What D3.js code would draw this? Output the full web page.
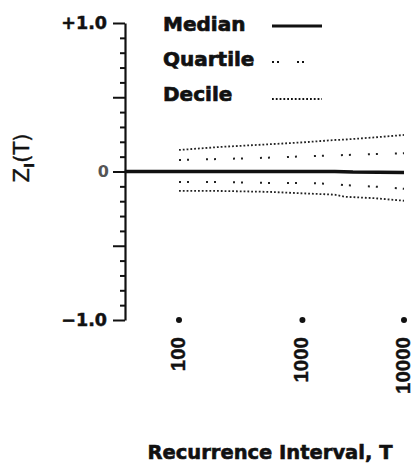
<!DOCTYPE html>
<html><head><meta charset="utf-8">
<script src="https://cdn.jsdelivr.net/npm/d3@7"></script>
<style>html,body{margin:0;padding:0;background:#fff;}svg{display:block;}</style>
</head><body>
<script>
// ---- data ----
const medianT = [43, 100, 1000, 2000, 3000, 10000];
const medianV = [0, 0, 0, 0, -0.004, -0.006];
const bandT = [100, 200, 500, 1000, 2000, 2500, 5000, 10000];
const upperDecile   = [0.145, 0.165, 0.183, 0.196, 0.212, 0.215, 0.230, 0.246];
const upperQuartile = [0.077, 0.084, 0.093, 0.102, 0.109, 0.111, 0.118, 0.123];
const lowerQuartile = [-0.071, -0.071, -0.077, -0.077, -0.084, -0.092, -0.102, -0.116];
const lowerDecile   = [-0.131, -0.131, -0.137, -0.147, -0.156, -0.170, -0.180, -0.197];
const xTickValues = [100, 1000, 10000];
const xTickLabels = ["100", "1000", "10000"];
const yTickValues = [1, 0, -1];
const yTickLabels = ["+1.0", "0", "\u22121.0"];
const legendLabels = ["Median", "Quartile", "Decile"];

// inverse normal CDF (Acklam)
function probit(p){
  const a=[-3.969683028665376e+01,2.209460984245205e+02,-2.759285104469687e+02,1.383577518672690e+02,-3.066479806614716e+01,2.506628277459239e+00];
  const b=[-5.447609879822406e+01,1.615858368580409e+02,-1.556989798598866e+02,6.680131188771972e+01,-1.328068155288572e+01];
  const c=[-7.784894002430293e-03,-3.223964580411365e-01,-2.400758277161838e+00,-2.549671010115819e+00,4.374664141464968e+00,2.938163982698783e+00];
  const d=[7.784695709041462e-03,3.224671290700398e-01,2.445134137142996e+00,3.754408661907416e+00];
  const pl=0.02425;
  let q,r;
  if(p<pl){q=Math.sqrt(-2*Math.log(p));return (((((c[0]*q+c[1])*q+c[2])*q+c[3])*q+c[4])*q+c[5])/((((d[0]*q+d[1])*q+d[2])*q+d[3])*q+1);}
  if(p<=1-pl){q=p-0.5;r=q*q;return (((((a[0]*r+a[1])*r+a[2])*r+a[3])*r+a[4])*r+a[5])*q/(((((b[0]*r+b[1])*r+b[2])*r+b[3])*r+b[4])*r+1);}
  q=Math.sqrt(-2*Math.log(1-p));return -(((((c[0]*q+c[1])*q+c[2])*q+c[3])*q+c[4])*q+c[5])/((((d[0]*q+d[1])*q+d[2])*q+d[3])*q+1);
}
const zOf = T => probit(1 - 1/T);

const W = 415, H = 464;
const svg = d3.select("body").append("svg").attr("width", W).attr("height", H);
const FONT = "'DejaVu Sans', sans-serif";

const xz = d3.scaleLinear().domain([zOf(100), zOf(10000)]).range([179, 404]);
const x = T => xz(zOf(T));
const y = d3.scaleLinear().domain([-1, 1]).range([320, 23]);
const axisX = 125;

// y axis: minor ticks
const minorTicks = d3.range(-10, 11).map(i => i / 10);
const yAxis = d3.axisLeft(y).tickValues(minorTicks).tickSize(5).tickSizeOuter(0).tickFormat("");
const gy = svg.append("g").attr("transform", `translate(${axisX},0)`).call(yAxis);
gy.select(".domain").attr("stroke", "#111").attr("stroke-width", 2.2);
gy.selectAll(".tick line").attr("stroke", "#111").attr("stroke-width", 2)
  .attr("x2", d => (Math.abs(d * 2 - Math.round(d * 2)) < 1e-6) ? -12 : -5);

// y tick labels
svg.append("g").selectAll("text").data(yTickValues).join("text")
  .attr("x", (d, i) => i === 1 ? 109 : 107)
  .attr("y", d => y(d))
  .attr("dy", "0.36em")
  .attr("text-anchor", "end")
  .attr("font-family", FONT).attr("font-weight", "bold")
  .attr("font-size", (d, i) => i === 1 ? 16 : 17.5)
  .attr("fill", (d, i) => i === 1 ? "#555" : "#111")
  .attr("stroke", (d, i) => i === 1 ? "none" : "#111").attr("stroke-width", 0.5)
  .text((d, i) => yTickLabels[i]);

// y title Z_I(T)
const yt = svg.append("text")
  .attr("transform", "translate(29,158) rotate(-90)")
  .attr("text-anchor", "middle")
  .attr("font-family", FONT).attr("font-size", 21).attr("fill", "#111")
  .attr("stroke", "#111").attr("stroke-width", 0.4);
yt.append("tspan").text("Z");
yt.append("tspan").attr("font-size", 14).attr("dy", 5).attr("font-weight", "bold").text("I");
yt.append("tspan").attr("dy", -5).text("(T)");

// x tick markers (dots) and labels
svg.append("g").selectAll("circle").data(xTickValues).join("circle")
  .attr("cx", d => x(d)).attr("cy", y(-1)).attr("r", 3).attr("fill", "#111");
svg.append("g").selectAll("text").data(xTickValues).join("text")
  .attr("transform", d => `translate(${x(d) + 6},337) rotate(-90)`)
  .attr("text-anchor", "end")
  .attr("font-family", "'Liberation Sans', Arial, sans-serif").attr("font-weight", "bold")
  .attr("font-size", 20.5).attr("fill", "#111")
  .attr("stroke", "#111").attr("stroke-width", 0.4)
  .text((d, i) => xTickLabels[i]);

// x title
svg.append("text").attr("x", 270).attr("y", 459).attr("text-anchor", "middle")
  .attr("font-family", FONT).attr("font-weight", "bold").attr("font-size", 19.5).attr("fill", "#111")
  .attr("stroke", "#111").attr("stroke-width", 0.6)
  .text("Recurrence Interval, T");

// lines
const line = d3.line().x(d => x(d[0])).y(d => y(d[1]));
const pairs = (ts, vs) => ts.map((t, i) => [t, vs[i]]);
const decileDash = "1.8,2.0";
const quartDash = "2,6,2,17";
svg.append("path").datum(pairs(medianT, medianV)).attr("d", line)
  .attr("fill", "none").attr("stroke", "#111").attr("stroke-width", 3.5);
[upperDecile, lowerDecile].forEach(v => svg.append("path").datum(pairs(bandT, v)).attr("d", line)
  .attr("fill", "none").attr("stroke", "#222").attr("stroke-width", 1.8).attr("stroke-dasharray", decileDash));
[upperQuartile, lowerQuartile].forEach(v => svg.append("path").datum(pairs(bandT, v)).attr("d", line)
  .attr("fill", "none").attr("stroke", "#222").attr("stroke-width", 2).attr("stroke-dasharray", quartDash));

// legend
const lg = svg.append("g");
const legY = [31, 66, 101];
const legLineY = [26, 62, 99];
lg.selectAll("text").data(legendLabels).join("text")
  .attr("x", 163).attr("y", (d, i) => legY[i])
  .attr("font-family", FONT).attr("font-weight", "bold").attr("font-size", 20).attr("fill", "#111")
  .attr("stroke", "#111").attr("stroke-width", 0.7)
  .text(d => d);
const legStyles = [
  {w: 3, dash: null},
  {w: 2, dash: "2,3,2,18"},
  {w: 1.8, dash: "1.8,2.0"}
];
lg.selectAll("line").data(legendLabels).join("line")
  .attr("x1", 272).attr("x2", (d, i) => i === 1 ? 304 : 322)
  .attr("y1", (d, i) => legLineY[i]).attr("y2", (d, i) => legLineY[i])
  .attr("stroke", "#111").attr("stroke-width", (d, i) => legStyles[i].w)
  .attr("stroke-dasharray", (d, i) => legStyles[i].dash);
</script>
</body></html>
